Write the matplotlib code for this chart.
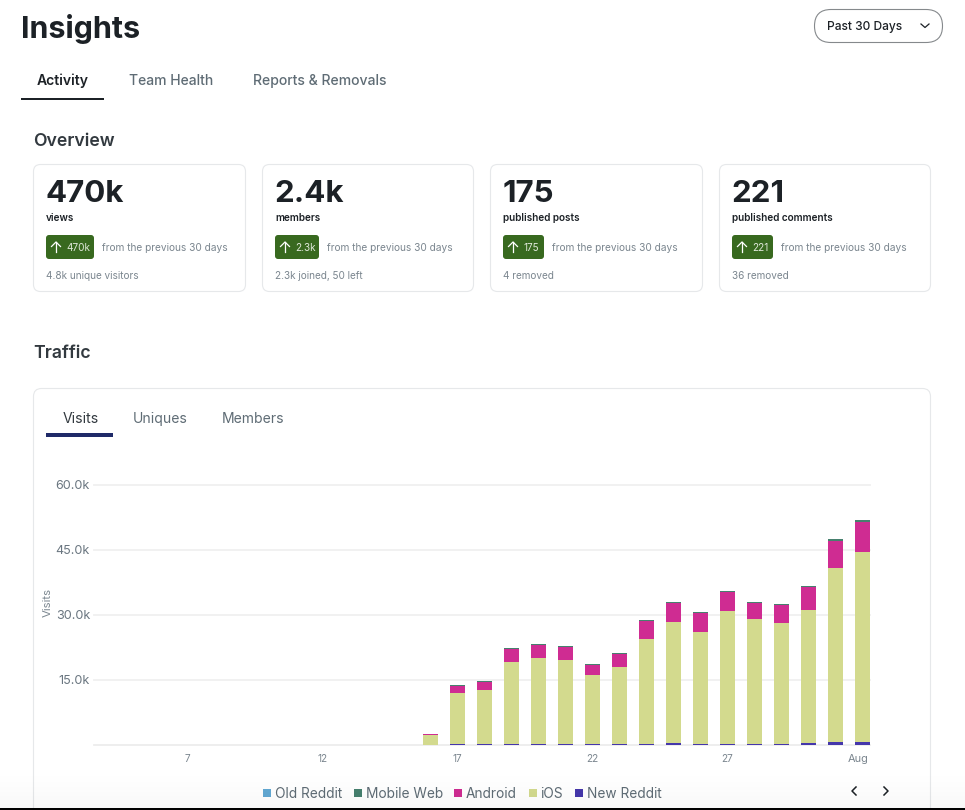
"""Insights dashboard: overview cards and stacked traffic bars."""
import matplotlib

matplotlib.use("Agg")
import matplotlib.pyplot as plt
import numpy as np
from matplotlib.patches import FancyBboxPatch, Rectangle
from matplotlib.transforms import ScaledTranslation

W, H = 965, 810

# traffic, thousands of visits per day (July 16 .. Aug 1)
days = list(range(16, 33))
new_reddit = [0, .2, .2, .2, .2, .2, .2, .2, .2, .35, .2, .2, .2, .2, .35, .7, .7]
ios = [2.15, 11.7, 12.4, 18.8, 19.75, 19.3, 15.85, 17.7, 24.15, 27.95, 25.8, 30.6, 28.8, 27.85, 30.65, 40.0, 43.7]
android = [.2, 1.65, 1.9, 3.05, 3.0, 3.0, 2.25, 3.1, 4.15, 4.3, 4.3, 4.4, 3.65, 4.15, 5.35, 6.3, 7.0]
mobile_web = [.02, .15, .15, .25, .25, .2, .3, .15, .2, .3, .3, .2, .25, .2, .25, .45, .4]
old_reddit = [0] * 17

y_ticks = [15, 30, 45, 60]
y_labels = ["15.0k", "30.0k", "45.0k", "60.0k"]
x_ticks = [7, 12, 17, 22, 27, 32]
x_labels = ["7", "12", "17", "22", "27", "Aug"]

legend_names = ["Old Reddit", "Mobile Web", "Android", "iOS", "New Reddit"]
legend_colors = ["#62a8d3", "#46806e", "#cf2c92", "#d3da8e", "#4537ab"]

card_values = ["470k", "2.4k", "175", "221"]
card_names = ["views", "members", "published posts", "published comments"]
card_deltas = ["470k", "2.3k", "175", "221"]
card_notes = ["4.8k unique visitors", "2.3k joined, 50 left", "4 removed", "36 removed"]

# card layout in pixels
card_left = [33.5, 262.5, 490.5, 719.5]
card_right = [245.5, 473.5, 702.5, 930.5]
badge_right = [94, 319, 544, 773]
from_x = [102, 327, 552, 781]

DARK = "#1c2126"
GREY = "#5f6c75"
LIGHT = "#7b868f"
GREEN = "#38691f"


def pt(px):
    return px * 0.72


plt.rcParams["font.family"] = ["Inter", "DejaVu Sans"]

fig = plt.figure(figsize=(W / 100, H / 100), dpi=100, facecolor="white")
page = fig.add_axes([0, 0, 1, 1], zorder=0)
page.set_xlim(0, W)
page.set_ylim(H, 0)
page.axis("off")


def label(x, y, s, size, color=GREY, weight="normal", ha="left"):
    # y is the middle of the x-height band, text sits on its baseline
    page.text(x, y + 0.36 * size, s, fontsize=pt(size), color=color, fontweight=weight,
              ha=ha, va="baseline")


def rounded(x0, y0, x1, y1, r, fc="white", ec="#e6e8ea", lw=0.8):
    page.add_patch(FancyBboxPatch((x0 + r, y0 + r), x1 - x0 - 2 * r, y1 - y0 - 2 * r,
                                  boxstyle=f"round,pad={r},rounding_size={r}",
                                  fc=fc, ec=ec, lw=lw))


# header
label(21, 27, "Insights", 30.5, DARK, "bold")
label(37, 80, "Activity", 14, DARK, "semibold")
label(128.8, 80, "Team Health", 13.9, GREY, "medium")
label(253, 80, "Reports & Removals", 14, GREY, "medium")
page.add_patch(Rectangle((21, 98), 83, 2, fc=DARK, ec="none"))

rounded(814.5, 9.5, 942.5, 42.5, 16.5, ec="#85898c", lw=0.8)
label(827, 25.8, "Past 30 Days", 12, DARK, "medium")
page.plot([921, 925, 929], [24, 27.5, 24], color=DARK, lw=0.9)

label(33.3, 139.2, "Overview", 17.7, "#32393f", "semibold")
label(33.3, 351.6, "Traffic", 17.7, "#32393f", "semibold")

# overview cards
for i in range(4):
    x = card_left[i] + 12.5
    rounded(card_left[i], 164.5, card_right[i], 291.5, 7)
    label(x - 0.5, 191.1, card_values[i], 31.3, DARK, "bold")
    label(x, 217.4, card_names[i], 10, DARK, "semibold")
    rounded(x, 235, badge_right[i], 259, 3, fc=GREEN, ec="none", lw=0)
    ax_x = x + 10
    page.plot([ax_x, ax_x], [252, 242], color="white", lw=0.9)
    page.plot([ax_x - 4.5, ax_x, ax_x + 4.5], [246.5, 242, 246.5], color="white", lw=0.9)
    label(x + 20, 247.7, card_deltas[i], 10, "#dfe8d9")
    label(from_x[i], 247.7, "from the previous 30 days", 10.15, LIGHT)
    label(x, 275.7, card_notes[i], 10, LIGHT)

# traffic card runs off the bottom of the screenshot
rounded(33.5, 388.5, 930.5, 830, 8)
label(62.3, 418.3, "Visits", 14, "#32393f")
label(133, 418.3, "Uniques", 14, GREY)
label(221.7, 418.3, "Members", 14, GREY)
page.add_patch(Rectangle((46, 433), 67, 4, fc="#1f2a68", ec="none"))

# stacked bars
ax = fig.add_axes([94 / W, 1 - 744.6 / H, 776 / W, 259.8 / H], zorder=1)
ax.patch.set_alpha(0)
ax.set_xlim(3.537, 32.28)
ax.set_ylim(0, 60)
bottom = np.zeros(len(days))
for name, values, color in zip(
    legend_names[::-1],
    [new_reddit, ios, android, mobile_web, old_reddit],
    legend_colors[::-1],
):
    ax.bar(days, values, width=0.556, bottom=bottom, color=color, label=name,
           zorder=3, linewidth=0, clip_on=False)
    bottom += np.array(values)

for side in ["top", "right", "left"]:
    ax.spines[side].set_visible(False)
ax.spines["bottom"].set_color("#ededed")
ax.spines["bottom"].set_linewidth(1.3)
ax.spines["bottom"].set_zorder(1)
ax.grid(axis="y", color="#f0f0f0", lw=1.3, zorder=0, clip_on=False)
ax.set_axisbelow(True)
ax.set_yticks(y_ticks, y_labels, fontsize=pt(12.6), color="#6a7680")
ax.set_xticks(x_ticks, x_labels, fontsize=pt(10), color=LIGHT)
ax.tick_params(axis="both", length=0)
ax.tick_params(axis="y", pad=2.8)
ax.tick_params(axis="x", pad=7)
aug = ax.get_xticklabels()[-1]
aug.set_fontsize(pt(11))
aug.set_transform(aug.get_transform() + ScaledTranslation(-4.5 / 100, 0, fig.dpi_scale_trans))
page.text(47.5, 602, "Visits", fontsize=pt(11.5), color=LIGHT, rotation=90, ha="center", va="center")

# legend
swatch_x = [263, 354, 454, 528.5, 575]
for x, name, color in zip(swatch_x, legend_names, legend_colors):
    page.add_patch(Rectangle((x, 788.5), 8, 8, fc=color, ec="none"))
    label(x + 12, 792.7, name, 13.7, GREY)

# pager arrows
page.plot([856, 852, 856], [787, 791, 795], color=DARK, lw=1.1)
page.plot([884, 888, 884], [787, 791, 795], color=DARK, lw=1.1)

# fade at the foot of the screen, then the black strip
overlay = fig.add_axes([0, 0, 1, 1], zorder=2)
overlay.axis("off")
fade = np.zeros((64, 2, 4))
fade[..., 3] = np.linspace(0, 0.1, 64)[:, None] ** 1.5
overlay.imshow(fade, extent=(0, W, 808, 765), aspect="auto", zorder=1)
overlay.set_xlim(0, W)
overlay.set_ylim(H, 0)
overlay.add_patch(Rectangle((0, 808), W, 2, fc="black", ec="none", zorder=2))

fig.savefig("out.png", dpi=100)
